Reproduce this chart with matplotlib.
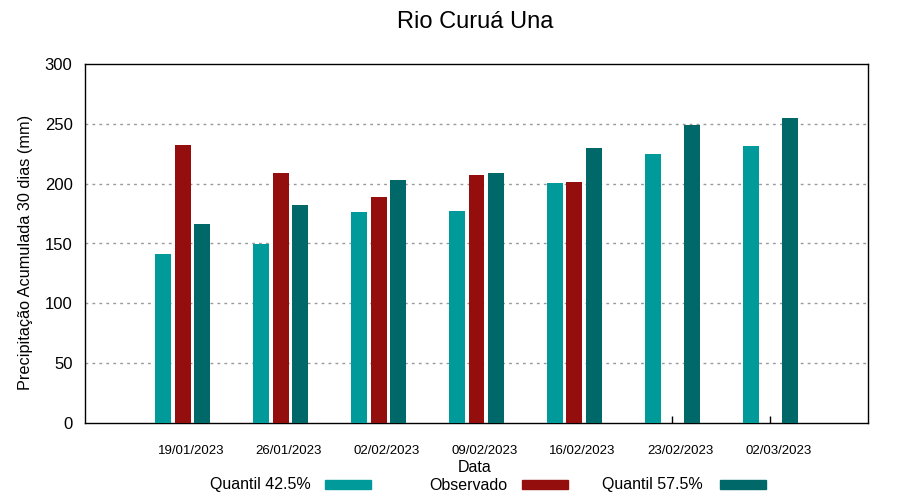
import matplotlib
matplotlib.use("Agg")
import matplotlib.pyplot as plt
import matplotlib.transforms as mtransforms
from matplotlib.patches import Rectangle
import numpy as np

plt.rcParams['font.family'] = ['Liberation Sans', 'DejaVu Sans']

dates = ["19/01/2023", "26/01/2023", "02/02/2023", "09/02/2023",
         "16/02/2023", "23/02/2023", "02/03/2023"]
q425 = [141.2, 149.6, 176.3, 177.2, 200.5, 224.8, 231.5]
observado = [232.3, 208.9, 188.9, 207.2, 201.4, np.nan, np.nan]
q575 = [166.3, 182.2, 203.1, 208.9, 229.8, 249.0, 254.8]
yticks = [0, 50, 100, 150, 200, 250, 300]

c1, c2, c3 = '#009a9a', '#940e0e', '#006868'

fig = plt.figure(figsize=(9, 5), dpi=100)
ax = fig.add_axes([85/900, 77/500, 783/900, 359/500])

x = np.arange(len(dates))
w = 0.163
off = 0.2
ax.bar(x - off, q425, width=w, color=c1, zorder=3)
ax.bar(x, observado, width=w, color=c2, zorder=3)
ax.bar(x + off, q575, width=w, color=c3, zorder=3)

ax.set_xlim(-1, 7)
ax.set_ylim(0, 300)
ax.set_yticks(yticks)
ax.set_yticklabels([str(v) for v in yticks], fontsize=12)
for v in yticks[1:-1]:
    ax.axhline(v, color='#999999', lw=1, ls=(0, (2, 3)), zorder=1)

ax.set_xticks(x)
ax.set_xticklabels(dates, fontsize=9.5)
ax.tick_params(axis='x', direction='in', length=5, pad=16, width=1, top=False)
ax.tick_params(axis='y', direction='in', length=0, pad=9)
offset = mtransforms.ScaledTranslation(8/100, 0, fig.dpi_scale_trans)
for lab in ax.get_xticklabels():
    lab.set_transform(lab.get_transform() + offset)

for s in ax.spines.values():
    s.set_linewidth(1.0)
    s.set_color('black')

ax.set_ylabel("Precipitação Acumulada 30 dias (mm)", fontsize=11.7)
ax.yaxis.set_label_coords(-0.066, 0.476)
fig.text(475/900, 1 - 467/500, "Data", ha='center', va='center', fontsize=11.5)
fig.text(475/900, 1 - 22/500, "Rio Curuá Una", ha='center', va='center', fontsize=17)

# legend
entries = [("Quantil 42.5%", c1, 311, 325), ("Observado", c2, 507, 522), ("Quantil 57.5%", c3, 703, 720)]
for label, col, tx, sx in entries:
    fig.text(tx/900, 1 - 489.5/500, label, ha='right', va='baseline', fontsize=11.5)
    fig.add_artist(Rectangle((sx/900, 1 - 489/500), 46/900, 9/500,
                             transform=fig.transFigure, color=col))

fig.savefig("out.png", dpi=100)
